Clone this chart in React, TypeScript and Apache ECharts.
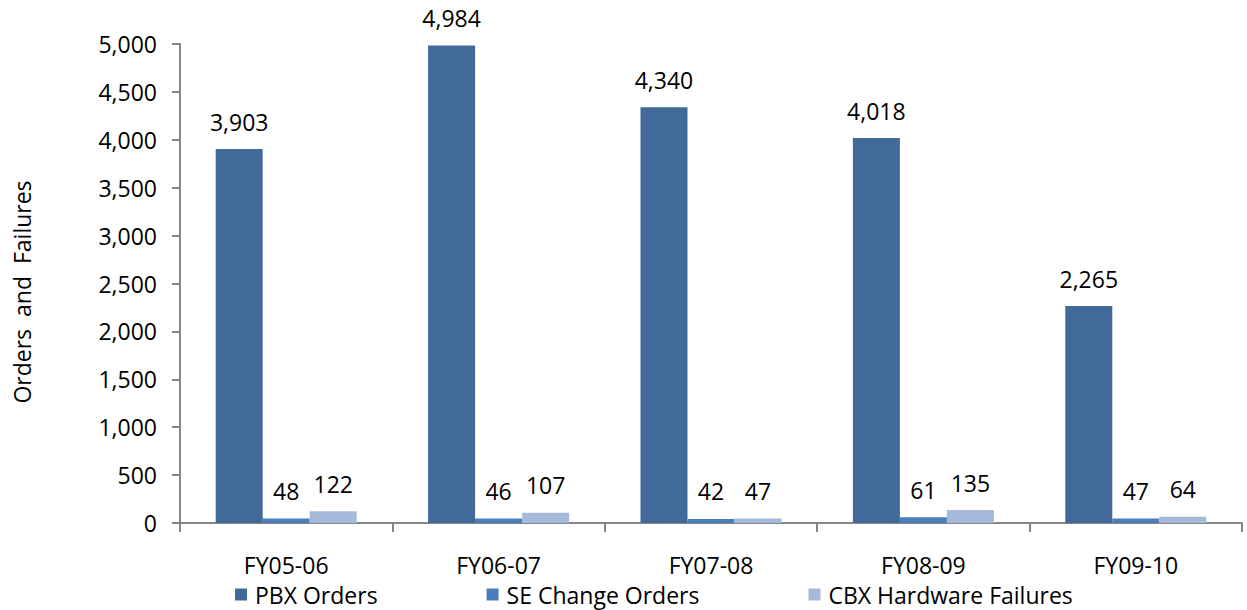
import React, { useEffect, useRef } from "react";
import * as echarts from "echarts";

const categories = ["FY05-06", "FY06-07", "FY07-08", "FY08-09", "FY09-10"];
const pbxOrders = [3903, 4984, 4340, 4018, 2265];
const seChangeOrders = [48, 46, 42, 61, 47];
const cbxFailures = [122, 107, 47, 135, 64];
const yTicks = [0, 500, 1000, 1500, 2000, 2500, 3000, 3500, 4000, 4500, 5000];
const yTitle = "Orders  and  Failures";

const FONT = "'Open Sans', sans-serif";

export default function App() {
  const ref = useRef<HTMLDivElement>(null);
  useEffect(() => {
    if (!ref.current) return;
    const chart = echarts.init(ref.current, null, { renderer: "svg" });
    const label = {
      show: true,
      position: "top" as const,
      distance: 16,
      color: "#000",
      fontSize: 23,
      fontFamily: FONT,
      formatter: (p: any) => Number(p.value).toLocaleString("en-US"),
    };
    const mk = (name: string, data: number[], color: string) => ({
      name,
      type: "bar",
      data,
      barGap: "0%",
      barCategoryGap: "33.6%",
      itemStyle: { color },
      label,
    });
    chart.setOption({
      animation: false,
      textStyle: { fontFamily: FONT },
      grid: {
        left: 180,
        right: 5,
        top: 44,
        bottom: 87,
        containLabel: false,
        outerBoundsMode: "none",
      },
      legend: {
        left: 235,
        top: 583,
        padding: 0,
        itemWidth: 12,
        itemHeight: 12,
        itemGap: 109,
        icon: "rect",
        textStyle: { fontSize: 23, color: "#000", fontFamily: FONT, padding: [0, 0, 0, 3] },
        data: ["PBX Orders", "SE Change Orders", "CBX Hardware Failures"],
      },
      graphic: [
        {
          type: "text",
          x: 22,
          y: 292,
          rotation: Math.PI / 2,
          style: {
            text: yTitle,
            fontSize: 23,
            fontFamily: FONT,
            fill: "#000",
            align: "center",
            verticalAlign: "middle",
          },
        },
      ],
      xAxis: {
        type: "category",
        data: categories,
        axisLine: { lineStyle: { color: "#868686", width: 2 } },
        axisTick: { show: true, length: 9, lineStyle: { color: "#868686", width: 2 } },
        axisLabel: { color: "#000", fontSize: 23, margin: 30, fontFamily: FONT },
      },
      yAxis: {
        type: "value",
        min: yTicks[0],
        max: yTicks[yTicks.length - 1],
        interval: 500,
        axisLine: { show: true, lineStyle: { color: "#868686", width: 2 } },
        axisTick: { show: true, length: 8, lineStyle: { color: "#868686", width: 2 } },
        splitLine: { show: false },
        axisLabel: {
          color: "#000",
          fontSize: 23,
          margin: 23,
          fontFamily: FONT,
          formatter: (v: number) => v.toLocaleString("en-US"),
        },
      },
      series: [
        mk("PBX Orders", pbxOrders, "#41699A"),
        mk("SE Change Orders", seChangeOrders, "#4A7EBB"),
        mk("CBX Hardware Failures", cbxFailures, "#A7B9DA"),
      ],
    });
    return () => chart.dispose();
  }, []);
  return <div ref={ref} style={{ width: 1247, height: 610, position: "absolute", left: 0, top: 0 }} />;
}
